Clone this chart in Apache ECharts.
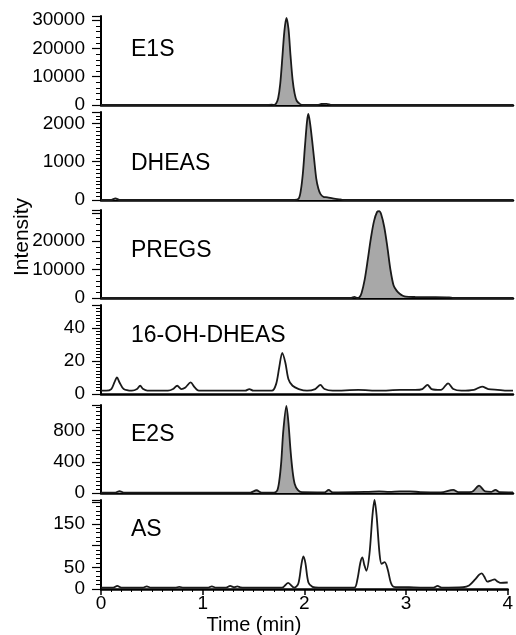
<!DOCTYPE html>
<html>
<head>
<meta charset="utf-8">
<script src="https://cdn.jsdelivr.net/npm/echarts@6/dist/echarts.min.js"></script>
<style>
  html, body { margin: 0; padding: 0; background: #fff; }
  #chart { width: 516px; height: 635px; }
</style>
</head>
<body>
<div id="chart"></div>
<script>
// compounds, top to bottom
const compounds = ['E1S', 'DHEAS', 'PREGS', '16-OH-DHEAS', 'E2S', 'AS']
const filled = [true, true, true, false, true, false]

// y axes
const yMax = [31500, 2300, 31000, 54, 1130, 205]
const yStep = [10000, 1000, 10000, 20, 400, 50]
const yLabels = [
  [0, 10000, 20000, 30000],
  [0, 1000, 2000],
  [0, 10000, 20000],
  [0, 20, 40],
  [0, 400, 800],
  [0, 50, 150],
]
const timeTicks = [0, 1, 2, 3, 4]

// traces: retention time (min) / intensity
const e1sTime = [0, 1.6, 1.66, 1.68, 1.7, 1.72, 1.74, 1.76, 1.78, 1.8, 1.82, 1.84, 1.86, 1.88, 1.9, 1.93, 1.96, 2.1, 2.14, 2.19, 2.24, 4]
const e1sIntensity = [0, 0, 150, 0, 500, 2400, 7500, 16500, 26000, 30800, 27000, 17500, 9000, 4000, 1500, 400, 0, 0, 350, 400, 0, 0]

const dheasTime = [0, 0.1, 0.14, 0.18, 1.88, 1.92, 1.94, 1.96, 1.98, 2.0, 2.013, 2.03, 2.05, 2.07, 2.09, 2.11, 2.13, 2.16, 2.2, 2.25, 2.3, 2.36, 4]
const dheasIntensity = [0, 0, 45, 0, 0, 40, 250, 700, 1400, 2050, 2250, 2000, 1550, 1050, 560, 300, 160, 80, 70, 40, 25, 0, 0]

const pregsTime = [0, 2.43, 2.46, 2.49, 2.51, 2.53, 2.56, 2.59, 2.62, 2.65, 2.68, 2.7, 2.72, 2.75, 2.78, 2.81, 2.84, 2.87, 2.9, 2.93, 2.96, 3.05, 3.2, 3.38, 3.42, 4]
const pregsIntensity = [0, 0, 400, 0, 300, 1800, 6500, 13500, 21000, 27000, 30300, 30600, 29500, 25000, 18000, 10000, 4500, 2600, 1500, 800, 450, 350, 300, 200, 0, 0]

const ohDheasTime = [0, 0.05, 0.1, 0.13, 0.155, 0.18, 0.22, 0.3, 0.35, 0.38, 0.41, 0.45, 0.65, 0.7, 0.74, 0.78, 0.82, 0.87, 0.91, 0.95, 1.4, 1.44, 1.48, 1.66, 1.7, 1.73, 1.76, 1.79, 1.82, 1.86, 1.92, 2.0, 2.08, 2.13, 2.17, 2.25, 2.5, 2.7, 2.9, 3.05, 3.12, 3.17, 3.21, 3.3, 3.37, 3.42, 3.5, 3.62, 3.7, 3.76, 3.85, 3.95, 4]
const ohDheasIntensity = [2, 2, 3, 7, 10, 7, 3, 2, 3, 5, 3, 2, 2, 3, 5, 3, 4, 7, 4, 2, 2, 3, 2, 2, 6, 16, 25, 19, 9, 5, 3, 2, 3, 5.5, 3, 2, 2.5, 2, 2.5, 2.5, 3, 5.5, 3, 2.5, 6.5, 3, 2, 2.5, 4.5, 3, 2.5, 2, 2]

const e2sTime = [0, 0.14, 0.18, 0.22, 1.45, 1.51, 1.56, 1.68, 1.71, 1.73, 1.75, 1.77, 1.8, 1.82, 1.84, 1.86, 1.88, 1.91, 1.95, 2.17, 2.21, 2.25, 2.6, 2.7, 2.8, 2.9, 3.0, 3.1, 3.3, 3.42, 3.47, 3.6, 3.67, 3.73, 3.79, 3.83, 3.87, 4]
const e2sIntensity = [5, 5, 25, 5, 5, 35, 5, 5, 30, 150, 400, 800, 1120, 900, 550, 280, 120, 40, 10, 8, 40, 8, 15, 20, 15, 20, 20, 12, 8, 40, 10, 15, 95, 20, 15, 40, 10, 8]

const asTime = [0, 0.12, 0.16, 0.2, 0.41, 0.45, 0.49, 0.73, 0.77, 0.81, 1.05, 1.09, 1.13, 1.23, 1.27, 1.31, 1.34, 1.37, 1.41, 1.78, 1.84, 1.9, 1.94, 1.97, 1.99, 2.01, 2.04, 2.08, 2.14, 2.49, 2.52, 2.55, 2.57, 2.59, 2.61, 2.64, 2.67, 2.69, 2.71, 2.74, 2.76, 2.79, 2.82, 2.85, 2.88, 3.03, 3.27, 3.31, 3.35, 3.56, 3.62, 3.68, 3.72, 3.745, 3.77, 3.8, 3.84, 3.87, 3.9, 3.93, 4]
const asIntensity = [3, 3, 7, 3, 3, 6, 3, 3, 5, 3, 3, 6, 3, 3, 7, 4, 6, 4, 3, 3, 14, 3, 12, 55, 75, 60, 15, 5, 3, 3, 20, 60, 73, 55, 42, 80, 170, 205, 170, 80, 58, 62, 45, 15, 5, 4, 3, 7, 3, 4, 8, 22, 33, 36, 28, 17, 20, 22, 17, 14, 15]

const traces = [
  [e1sTime, e1sIntensity],
  [dheasTime, dheasIntensity],
  [pregsTime, pregsIntensity],
  [ohDheasTime, ohDheasIntensity],
  [e2sTime, e2sIntensity],
  [asTime, asIntensity],
]

// panel layout (px): top edge and zero line of each panel
const panelTop = [16, 112, 210, 305, 405, 500]
const panelZero = [105, 200, 298, 394, 493, 589]
const minorSplit = [5, 10, 5, 10, 8, 5]
const labelY = [50, 164, 251, 336, 435, 530]

const FONT = '"Liberation Sans", Arial, sans-serif'
const last = compounds.length - 1

const chart = echarts.init(document.getElementById('chart'))

const option = {
  animation: false,
  backgroundColor: '#fff',
  grid: compounds.map((_, i) => ({
    left: 101,
    right: 3,
    top: panelTop[i],
    height: panelZero[i] - panelTop[i],
  })),
  xAxis: compounds.map((_, i) => ({
    type: 'value',
    gridIndex: i,
    min: 0,
    max: 4,
    interval: 1,
    axisLine: { show: true, lineStyle: { color: '#000', width: 2.5 } },
    axisTick: { show: i === last, length: 6, lineStyle: { color: '#000', width: 1.5 } },
    minorTick: { show: i === last, splitNumber: 10, length: 3, lineStyle: { color: '#000', width: 1 } },
    axisLabel: {
      show: i === last,
      fontSize: 19,
      fontFamily: FONT,
      color: '#000',
      margin: 5,
      formatter: (v) => (timeTicks.includes(v) ? String(v) : ''),
    },
    splitLine: { show: false },
  })),
  yAxis: compounds.map((_, i) => ({
    type: 'value',
    gridIndex: i,
    min: 0,
    max: yMax[i],
    interval: yStep[i],
    axisLine: { show: true, lineStyle: { color: '#000', width: 2 } },
    axisTick: { show: true, length: 9, lineStyle: { color: '#000', width: 1.2 } },
    minorTick: { show: true, splitNumber: minorSplit[i], length: 5, lineStyle: { color: '#000', width: 1 } },
    axisLabel: {
      fontSize: 19,
      fontFamily: FONT,
      color: '#000',
      margin: 16,
      formatter: (v) => (yLabels[i].includes(v) ? String(v) : ''),
    },
    splitLine: { show: false },
  })),
  series: traces.map(([t, y], i) => ({
    name: compounds[i],
    type: 'line',
    xAxisIndex: i,
    yAxisIndex: i,
    data: t.map((time, k) => [time, y[k]]),
    symbol: 'none',
    smooth: 0.3,
    lineStyle: { color: '#1a1a1a', width: 1.8 },
    areaStyle: filled[i] ? { color: '#a8a8a8', opacity: 1 } : undefined,
    z: 1,
  })),
  graphic: [
    ...compounds.map((name, i) => ({
      type: 'text',
      x: 131,
      y: labelY[i],
      style: { text: name, font: '23px ' + FONT, fill: '#000', verticalAlign: 'middle' },
    })),
    {
      type: 'text',
      x: 22,
      y: 237,
      rotation: Math.PI / 2,
      style: { text: 'Intensity', font: '21px ' + FONT, fill: '#000', align: 'center', verticalAlign: 'middle' },
    },
    {
      type: 'text',
      x: 254,
      y: 625,
      style: { text: 'Time (min)', font: '20px ' + FONT, fill: '#000', align: 'center', verticalAlign: 'middle' },
    },
  ],
}

chart.setOption(option)
</script>
</body>
</html>
